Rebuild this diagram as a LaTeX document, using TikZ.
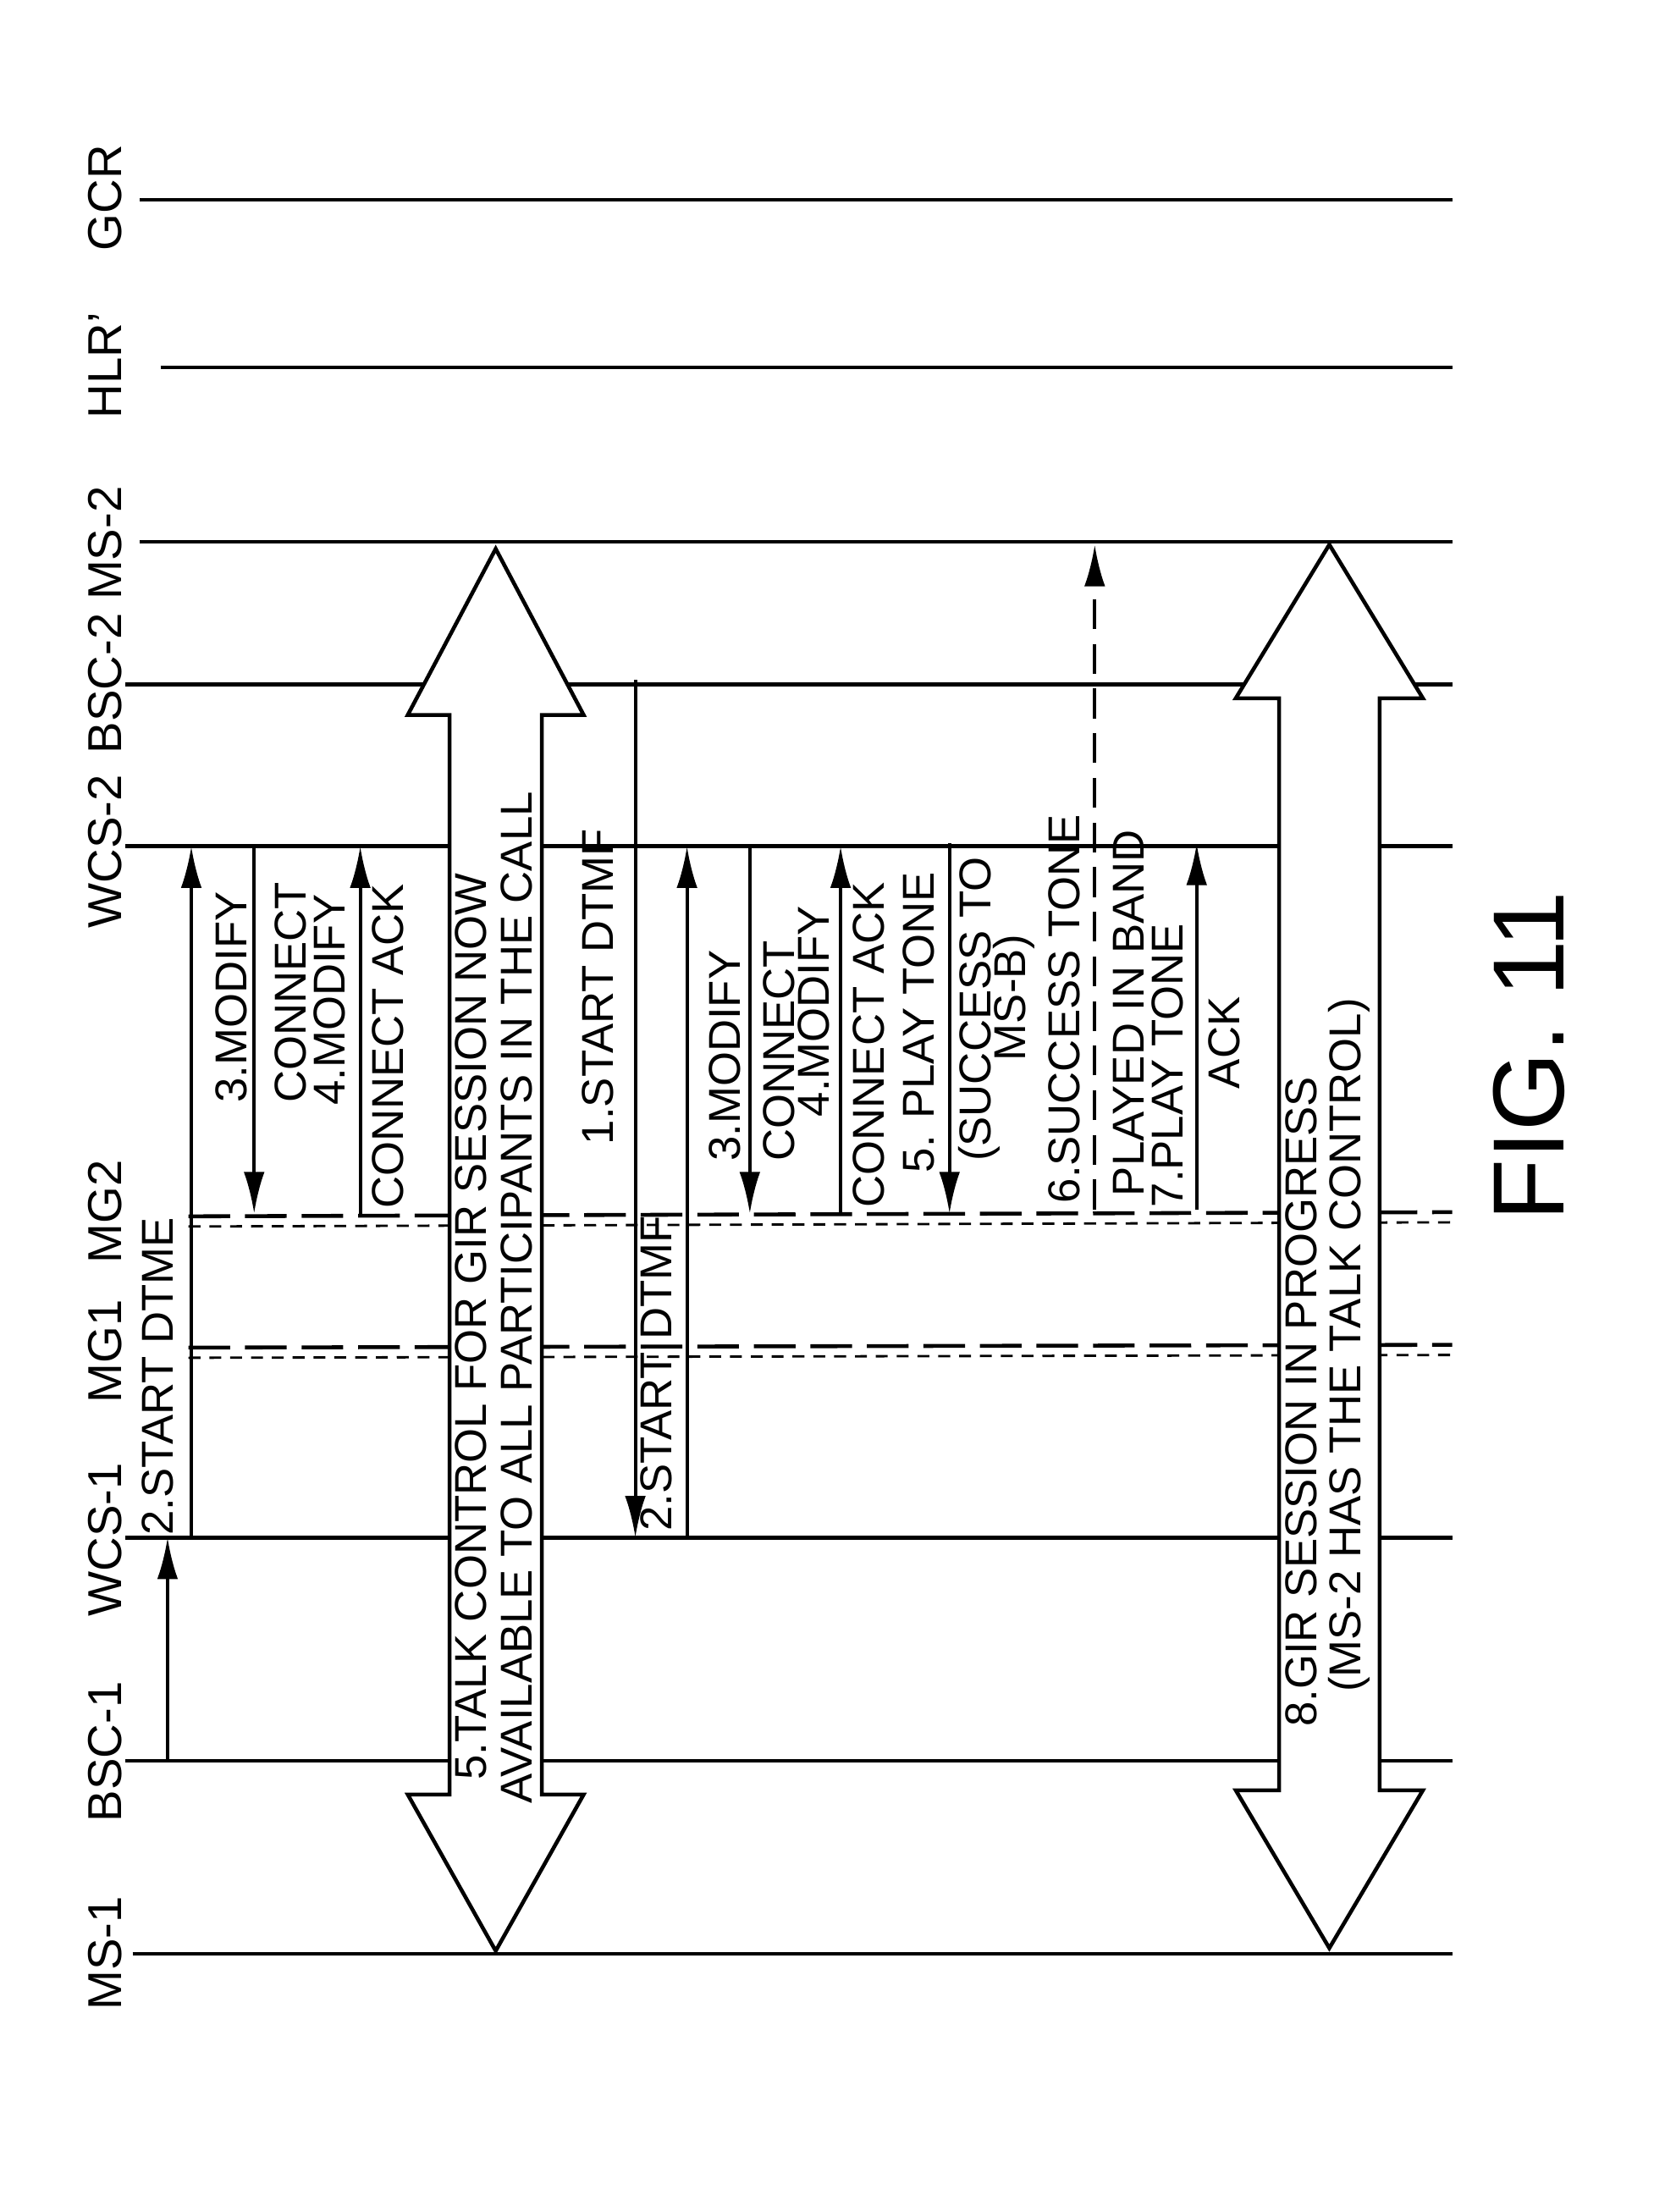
\documentclass[tikz,border=0pt]{standalone}
\usepackage{fontspec}
\setmainfont{Liberation Sans}
\usetikzlibrary{arrows.meta}
\tikzset{
  life/.style={line width=1.3pt},
  msg/.style={line width=1.1pt,-{Latex[length=14pt,width=7pt]}},
  lbl/.style={rotate=90,anchor=west,inner sep=0pt,font=\fontsize{15}{15}\selectfont},
  big/.style={line width=1.3pt,fill=white}
}
\begin{document}
\begin{tikzpicture}[x=0.0165cm,y=-0.0165cm]
    \useasboundingbox (0,0) rectangle (1200,1584);
    % lifelines
    \foreach \n/\y/\a in {gcr/143/100,hlr/263/115,mstwo/388/100,bsctwo/490/90,wcstwo/606/90,wcsone/1101/90,bscone/1261/90,msone/1399/95}{
      \coordinate (\n-l) at (\a,\y); \coordinate (\n-r) at (1040,\y);
      \draw[life] (\n-l) -- (\n-r);
    }
    \coordinate (mgtwo-l) at (135,871); \coordinate (mgtwo-r) at (1040,868);
    \coordinate (mgone-l) at (135,965); \coordinate (mgone-r) at (1040,963);
    \foreach \n in {mgtwo,mgone}{
      \draw[line width=1.3pt,dash pattern=on 14pt off 5pt] (\n-l) -- (\n-r);
      \draw[line width=0.8pt,dash pattern=on 4pt off 3pt] ([yshift=-1.2mm]\n-l) -- ([yshift=-1.2mm]\n-r);
    }
    % names
    \node[lbl,font=\fontsize{16}{16}\selectfont] at (75,1440) {MS-1};
    \node[lbl,font=\fontsize{16}{16}\selectfont] at (75,1305) {BSC-1};
    \node[lbl,font=\fontsize{16}{16}\selectfont] at (75,1158) {WCS-1};
    \node[lbl,font=\fontsize{16}{16}\selectfont] at (75,1005) {MG1};
    \node[lbl,font=\fontsize{16}{16}\selectfont] at (75,905) {MG2};
    \node[lbl,font=\fontsize{16}{16}\selectfont] at (75,665) {WCS-2};
    \node[lbl,font=\fontsize{16}{16}\selectfont] at (75,540) {BSC-2 MS-2};
    \node[lbl,font=\fontsize{16}{16}\selectfont] at (75,300) {HLR'};
    \node[lbl,font=\fontsize{16}{16}\selectfont] at (75,180) {GCR};
    % first exchange
    \draw[msg] (120,1261) -- (120,1101);
    \draw[msg] (137,1101) -- (137,606);
    \node[lbl] at (113,1100) {2.START DTME};
    \draw[msg] (182,606) -- (182,869);
    \node[lbl] at (166,790) {3.MODIFY};
    \node[lbl] at (208,790) {CONNECT};
    \draw[msg] (258,869) -- (258,606);
    \node[lbl] at (236,792) {4.MODIFY};
    \node[lbl] at (278,866) {CONNECT ACK};
    % big arrow 1
    \draw[big] (355,393) -- (418,512) -- (388,512) -- (388,1285) -- (418,1285) -- (355,1397)
      -- (292,1285) -- (322,1285) -- (322,512) -- (292,512) -- cycle;
    \node[lbl] at (337,1275) {5.TALK CONTROL FOR GIR SESSION NOW};
    \node[lbl] at (370,1292) {AVAILABLE TO ALL PARTICIPANTS IN THE CALL};
    % second exchange
    \draw[msg] (455,487) -- (455,1101);
    \node[lbl] at (428,820) {1.START DTMF};
    \draw[msg] (492,1101) -- (492,606);
    \node[lbl] at (470,1097) {2.START DTMF};
    \draw[msg] (537,606) -- (537,869);
    \node[lbl] at (519,832) {3.MODIFY};
    \node[lbl] at (558,832) {CONNECT};
    \draw[msg] (602,869) -- (602,606);
    \node[lbl] at (583,800) {4.MODIFY};
    \node[lbl] at (622,865) {CONNECT ACK};
    \draw[msg] (680,604) -- (680,869);
    \node[lbl] at (658,840) {5. PLAY TONE};
    \node[lbl] at (701,832) {(SUCCESS TO};
    \node[lbl] at (726,760) {MS-B)};
    \draw[msg,dash pattern=on 10pt off 5pt] (784,866) -- (784,390);
    \node[lbl] at (762,862) {6.SUCCESS TONE};
    \node[lbl] at (808,857) {PLAYED IN BAND};
    \draw[msg] (857,866) -- (857,604);
    \node[lbl] at (836,865) {7.PLAY TONE};
    \node[lbl] at (877,780) {ACK};
    % big arrow 2
    \draw[big] (952,390) -- (1019,500) -- (988,500) -- (988,1282) -- (1019,1282) -- (952,1395)
      -- (885,1282) -- (916,1282) -- (916,500) -- (885,500) -- cycle;
    \node[lbl] at (932,1237) {8.GIR SESSION IN PROGRESS};
    \node[lbl] at (966,1212) {(MS-2 HAS THE TALK CONTROL)};
    \node[lbl,font=\fontsize{34}{34}\selectfont] at (1095,875) {FIG. 11};
\end{tikzpicture}
\end{document}
